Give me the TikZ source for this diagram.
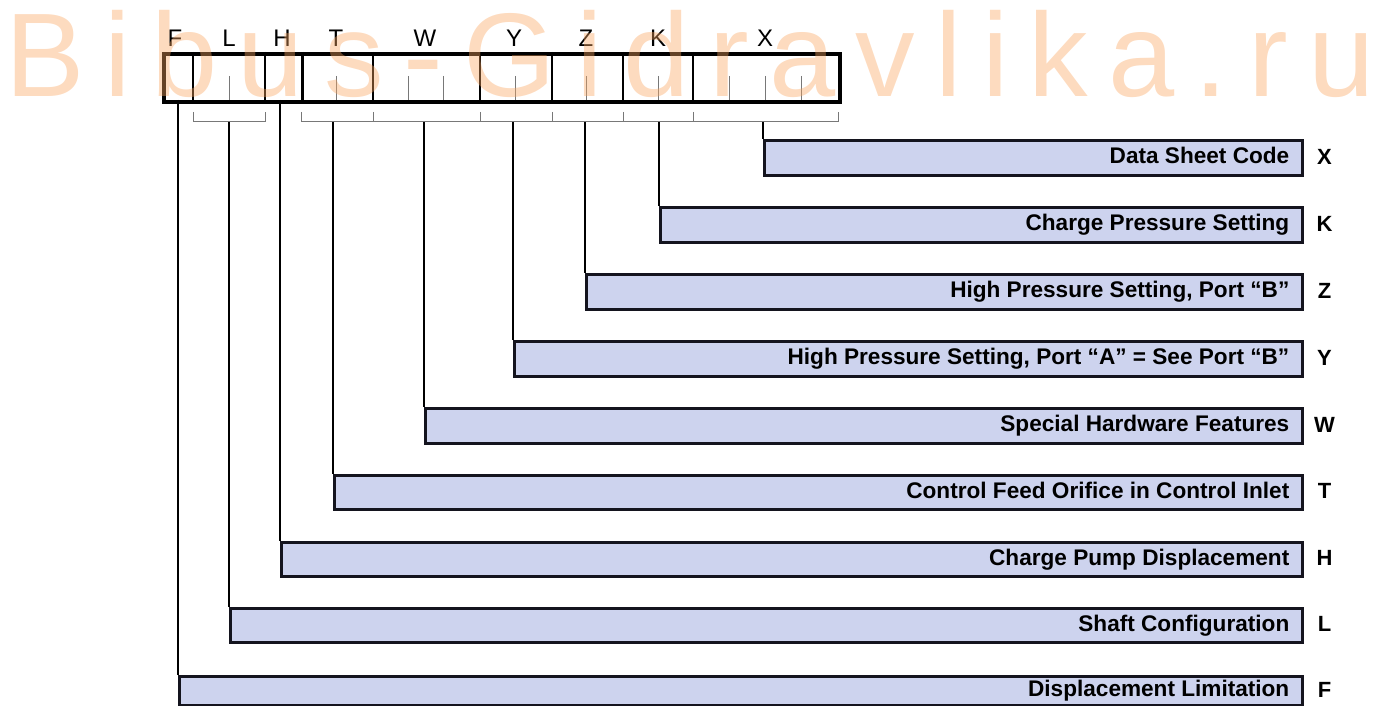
\documentclass[tikz,border=0pt]{standalone}
\usepackage{fontspec}
\setmainfont{Liberation Sans}
\newfontfamily\wmfont[LetterSpace=17]{Liberation Sans}
\definecolor{barfill}{RGB}{205,211,238}
\definecolor{barline}{RGB}{20,20,30}
\definecolor{wmcol}{RGB}{250,165,95}
\definecolor{tickgray}{RGB}{120,120,120}
\begin{document}
\begin{tikzpicture}[x=1pt,y=-1pt,
  barbox/.style={draw=barline, line width=2.5pt, fill=barfill, anchor=north west, minimum height=35pt, inner sep=0pt},
  bartext/.style={anchor=east, inner sep=0pt, font=\bfseries\fontsize{22.6}{26}\selectfont, text height=16.2pt, text depth=0pt},
  sidelabel/.style={anchor=center, inner sep=0pt, font=\bfseries\fontsize{22}{26}\selectfont, text height=15.8pt, text depth=0pt},
  toplabel/.style={anchor=center, inner sep=0pt, font=\fontsize{24}{28}\selectfont, text height=17pt, text depth=0pt},
  leader/.style={draw=black, line width=2pt},
  divider/.style={draw=black, line width=2.5pt},
  digit/.style={draw=tickgray, line width=1pt},
  bracket/.style={draw=tickgray, line width=1pt},
  codebox/.style={draw=black, line width=4pt, anchor=north west, minimum width=676pt, minimum height=48pt, inner sep=0pt}
]
\useasboundingbox (0,0) rectangle (1386,706);

% code box
\node[codebox] (code) at (162,52) {};
\foreach \d in {193,265,373,480,552,623,693} \draw[divider] (\d,52) -- (\d,100);
\draw[divider, line width=3pt] (302,52) -- (302,100);
\foreach \d in {229,336,408,443,515,586,658,729,765,801} \draw[digit] (\d,76) -- (\d,100);

% top letters
\foreach \l/\x in {F/175,L/229,H/282,T/336,W/425,Y/514,Z/586,K/658,X/765}
  \node[toplabel] (top\l) at (\x,38) {\l};

% brackets
\draw[bracket] (193,112) -- (193,122) -- (265,122) -- (265,112);
\draw[bracket] (301,112) -- (301,122) -- (838,122) -- (838,112);
\foreach \d in {373,480,552,623,693} \draw[bracket] (\d,112) -- (\d,122);

% bars, labels and leaders
\foreach \l/\x/\t/\s/\h/\txt in {
  X/763/139/122/35/{Data Sheet Code},
  K/659/206/122/35/{Charge Pressure Setting},
  Z/585/273/122/35/{High Pressure Setting, Port “B”},
  Y/513/340/122/35/{High Pressure Setting, Port “A” = See Port “B”},
  W/424/407/122/35/{Special Hardware Features},
  T/333/474/122/34/{Control Feed Orifice in Control Inlet},
  H/280/541/100/34/{Charge Pump Displacement},
  L/229/607/122/34/{Shaft Configuration},
  F/178/675/100/29/{Displacement Limitation}}
{
  \pgfmathsetmacro{\w}{1301-\x}
  \node[barbox, minimum width=\w pt, minimum height=\h pt] (bar\l) at (\x,\t) {};
  \node[bartext] (txt\l) at ([xshift=-14pt,yshift=2pt]bar\l.east) {\txt};
  \node[sidelabel] (side\l) at ([xshift=21pt,yshift=1.5pt]bar\l.east) {\l};
  \coordinate (lead\l) at (\x,\s);
  \draw[leader] (lead\l) -- (bar\l.north west);
}

% watermark
\node[anchor=base west, inner sep=0pt, text=wmcol, opacity=0.4, font=\wmfont\fontsize{119}{119}\selectfont] (wmark) at (5,97) {Bibus-Gidravlika.ru};
\end{tikzpicture}
\end{document}
